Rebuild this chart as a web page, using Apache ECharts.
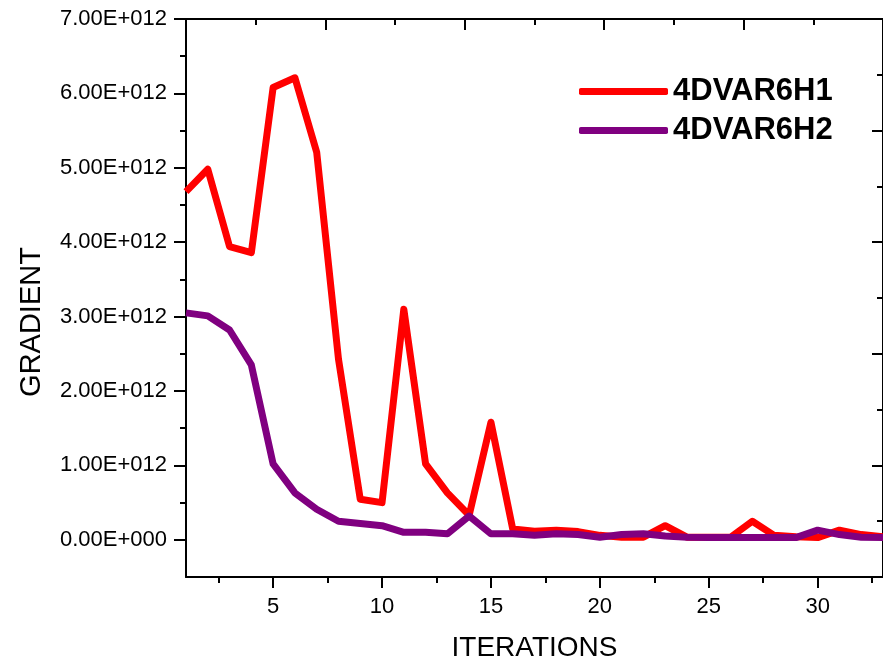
<!DOCTYPE html>
<html>
<head>
<meta charset="utf-8">
<script src="https://cdn.jsdelivr.net/npm/echarts@6/dist/echarts.min.js"></script>
<style>html,body{margin:0;padding:0;background:#fff;overflow:hidden}#c{width:883px;height:667px}</style>
</head>
<body>
<div id="c"></div>
<script>
const iterations = [1,2,3,4,5,6,7,8,9,10,11,12,13,14,15,16,17,18,19,20,21,22,23,24,25,26,27,28,29,30,31,32,33];
// values in units of 1E+012
const h1 = [4.68,4.98,3.94,3.86,6.08,6.21,5.21,2.43,0.545,0.50,3.10,1.02,0.63,0.33,1.58,0.145,0.115,0.13,0.11,0.06,0.035,0.035,0.19,0.035,0.035,0.035,0.25,0.06,0.04,0.03,0.13,0.07,0.04];
const h2 = [3.05,3.01,2.82,2.35,1.02,0.63,0.41,0.25,0.22,0.19,0.10,0.10,0.08,0.32,0.08,0.08,0.06,0.08,0.07,0.035,0.07,0.08,0.05,0.035,0.03,0.03,0.03,0.03,0.03,0.13,0.07,0.035,0.03];
const seriesNames = ['4DVAR6H1','4DVAR6H2'];
const xMajorTicks = [5,10,15,20,25,30];
const xMinorTicks = [2.5,7.5,12.5,17.5,22.5,27.5,32.5];
const yMajorTicks = [0,1,2,3,4,5,6,7];
const yMinorTicks = [0.5,1.5,2.5,3.5,4.5,5.5,6.5];
const E = 1e12;

const font = 'Arial, "Liberation Sans", sans-serif';
const black = '#000';
const chart = echarts.init(document.getElementById('c'), null, {renderer:'canvas', width:883, height:667});
const toPairs = arr => iterations.map((x,i)=>[x, arr[i]*E]);
const fmt = v => { const m = v / E; return m === 0 ? '0.00E+000' : m.toFixed(2) + 'E+012'; };

chart.setOption({
  animation:false,
  backgroundColor:'#fff',
  grid:{left:186, width:701, top:19, height:564, containLabel:false},
  legend:{
    orient:'vertical', left:579, top:76, padding:0, itemGap:8,
    itemWidth:89, itemHeight:7,
    data:seriesNames.map(n=>({name:n, icon:'roundRect'})),
    textStyle:{fontFamily:font, fontSize:31, fontWeight:'bold', color:black}
  },
  graphic:[{
    type:'text', x:32, y:322, rotation:Math.PI/2,
    style:{text:'GRADIENT', font:'29px ' + font, fill:black, textAlign:'center', textVerticalAlign:'middle'}
  }],
  xAxis:[
    {type:'value', position:'bottom', min:1, max:33,
     name:'ITERATIONS', nameLocation:'middle', nameGap:57,
     nameTextStyle:{fontFamily:font, fontSize:28, color:black},
     axisLine:{onZero:false, lineStyle:{color:black, width:2}},
     axisTick:{length:11, lineStyle:{color:black, width:2}, customValues:xMajorTicks},
     axisLabel:{customValues:xMajorTicks, margin:19, fontFamily:font, fontSize:22, color:black},
     splitLine:{show:false}},
    {type:'value', position:'bottom', min:1, max:33,
     axisLine:{show:false, onZero:false},
     axisTick:{length:6, lineStyle:{color:black, width:2}, customValues:xMinorTicks},
     axisLabel:{show:false}, splitLine:{show:false}},
    {type:'value', position:'top', min:0, max:5, interval:1,
     axisLine:{onZero:false, lineStyle:{color:black, width:2}},
     axisTick:{inside:true, length:11, lineStyle:{color:black, width:2}},
     minorTick:{show:true, splitNumber:2, length:6, lineStyle:{color:black, width:2}},
     axisLabel:{show:false}, splitLine:{show:false}, minorSplitLine:{show:false}}
  ],
  yAxis:[
    {type:'value', position:'left', min:-0.5*E, max:7*E,
     axisLine:{onZero:false, lineStyle:{color:black, width:2}},
     axisTick:{length:12, lineStyle:{color:black, width:2}, customValues:yMajorTicks.map(v=>v*E)},
     axisLabel:{customValues:yMajorTicks.map(v=>v*E), formatter:fmt, margin:19, fontFamily:font, fontSize:22, color:black},
     splitLine:{show:false}},
    {type:'value', position:'left', min:-0.5*E, max:7*E,
     axisLine:{show:false, onZero:false},
     axisTick:{length:6, lineStyle:{color:black, width:2}, customValues:yMinorTicks.map(v=>v*E)},
     axisLabel:{show:false}, splitLine:{show:false}},
    {type:'value', position:'right', min:0, max:5, interval:1,
     axisLine:{onZero:false, lineStyle:{color:black, width:2}},
     axisTick:{inside:true, length:11, lineStyle:{color:black, width:2}},
     minorTick:{show:true, splitNumber:2, length:6, lineStyle:{color:black, width:2}},
     axisLabel:{show:false}, splitLine:{show:false}, minorSplitLine:{show:false}}
  ],
  series:[
    {name:seriesNames[0], type:'line', xAxisIndex:0, yAxisIndex:0, data:toPairs(h1), symbol:'none',
     itemStyle:{color:'#ff0000'}, lineStyle:{color:'#ff0000', width:7, join:'round'}},
    {name:seriesNames[1], type:'line', xAxisIndex:0, yAxisIndex:0, data:toPairs(h2), symbol:'none',
     itemStyle:{color:'#800080'}, lineStyle:{color:'#800080', width:7, join:'round'}}
  ]
});
</script>
</body>
</html>
